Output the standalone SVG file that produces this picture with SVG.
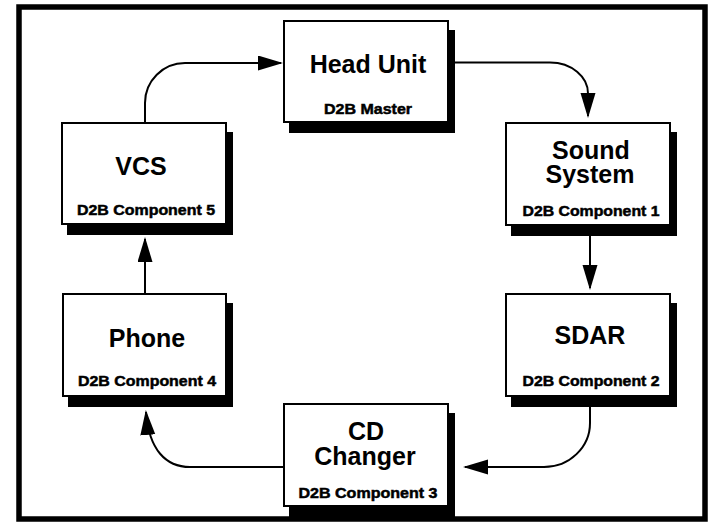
<svg xmlns="http://www.w3.org/2000/svg" width="709" height="522" viewBox="0 0 709 522">
<style>
.frame{fill:none;stroke:#000;stroke-width:5.5}
.shadow{fill:#000}
.box{fill:#fff;stroke:#000;stroke-width:2}
.title{font-family:"Liberation Sans",Arial,Helvetica,sans-serif;font-weight:bold;font-size:25px;fill:#000;text-anchor:middle}
.sub{font-family:"Liberation Sans",Arial,Helvetica,sans-serif;font-weight:bold;font-size:15px;fill:#000;stroke:#000;stroke-width:0.5;text-anchor:middle}
.conn{fill:none;stroke:#000;stroke-width:2}
</style>
<defs>
<marker id="arrow" markerUnits="userSpaceOnUse" markerWidth="26" markerHeight="16" refX="23" refY="7.5" orient="auto">
<path d="M0,0 L25,7.5 L0,15 Z" fill="#000"/>
</marker>
</defs>
<rect width="709" height="522" fill="#fff"/>
<rect class="frame" x="19" y="7" width="686" height="512"/>
<g id="connectors">
<path class="conn" d="M145,122 V103 A40,40 0 0 1 185,63 H281" marker-end="url(#arrow)"/>
<path class="conn" d="M449,62.5 H550 A38,31 0 0 1 588,94 V116" marker-end="url(#arrow)"/>
<path class="conn" d="M590,226 V288" marker-end="url(#arrow)"/>
<path class="conn" d="M590,397 V423 A46,44 0 0 1 544,467 H465" marker-end="url(#arrow)"/>
<path class="conn" d="M284,467 H190 C166,467 149,450 146,412" marker-end="url(#arrow)"/>
<path class="conn" d="M145,293 V239" stroke-width="1.5" marker-end="url(#arrow)"/>
</g>
<g id="head-unit">
<rect class="shadow" x="289" y="30" width="166" height="103"/>
<rect class="box" x="284" y="21" width="164" height="101"/>
<text class="title" x="368" y="73">Head Unit</text>
<text class="sub" x="368" y="114" textLength="88" lengthAdjust="spacingAndGlyphs">D2B Master</text>
</g>
<g id="sound-system">
<rect class="shadow" x="511" y="132" width="166" height="104"/>
<rect class="box" x="506" y="123" width="164" height="102"/>
<text class="title"><tspan x="591" y="159">Sound</tspan><tspan x="590" y="183">System</tspan></text>
<text class="sub" x="591" y="216" textLength="137" lengthAdjust="spacingAndGlyphs">D2B Component 1</text>
</g>
<g id="sdar">
<rect class="shadow" x="511" y="303" width="166" height="104"/>
<rect class="box" x="506" y="294" width="164" height="102"/>
<text class="title" x="590" y="344">SDAR</text>
<text class="sub" x="591" y="386" textLength="137" lengthAdjust="spacingAndGlyphs">D2B Component 2</text>
</g>
<g id="cd-changer">
<rect class="shadow" x="289" y="413" width="166" height="104"/>
<rect class="box" x="284" y="404" width="164" height="102"/>
<text class="title"><tspan x="366" y="440">CD</tspan><tspan x="365" y="465">Changer</tspan></text>
<text class="sub" x="368" y="498" textLength="139" lengthAdjust="spacingAndGlyphs">D2B Component 3</text>
</g>
<g id="phone">
<rect class="shadow" x="68" y="303" width="165" height="104"/>
<rect class="box" x="63" y="294" width="163" height="102"/>
<text class="title" x="147" y="347">Phone</text>
<text class="sub" x="147" y="386" textLength="138" lengthAdjust="spacingAndGlyphs">D2B Component 4</text>
</g>
<g id="vcs">
<rect class="shadow" x="67" y="132" width="166" height="103"/>
<rect class="box" x="62" y="123" width="164" height="101"/>
<text class="title" x="141" y="175">VCS</text>
<text class="sub" x="146" y="215" textLength="138" lengthAdjust="spacingAndGlyphs">D2B Component 5</text>
</g>
</svg>
